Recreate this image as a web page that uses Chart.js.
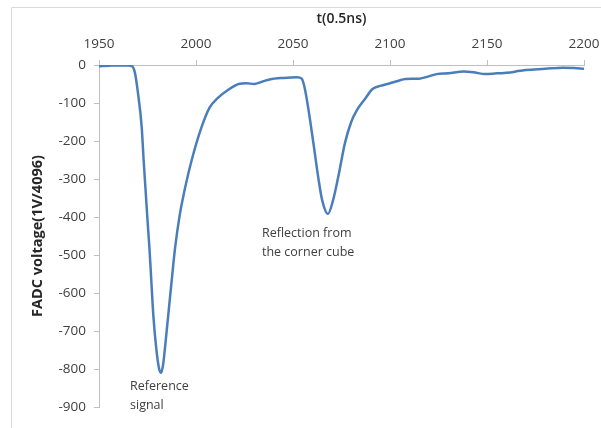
<!DOCTYPE html>
<html>
<head>
<meta charset="utf-8">
<script src="https://cdn.jsdelivr.net/npm/chart.js@4/dist/chart.umd.min.js"></script>
<style>
  html, body { margin: 0; padding: 0; background: #fff; }
  #wrap { width: 601px; height: 428px; }
</style>
</head>
<body>
<div id="wrap"><canvas id="myChart" width="601" height="428"></canvas></div>
<script>
// time in units of 0.5 ns, FADC voltage in 1V/4096
var tValues = [1950, 1955, 1960, 1965, 1967, 1968.5, 1970, 1972, 1973, 1975, 1976, 1977, 1978, 1979.5, 1981, 1982, 1983, 1984, 1985.7, 1987.4, 1989.2, 1991.6, 1993.8, 1997.8, 2002.9, 2007, 2011, 2017, 2022, 2026, 2030, 2034, 2038, 2045, 2052, 2054.5, 2056, 2058, 2060.5, 2063, 2065, 2068, 2070.7, 2073.3, 2076.8, 2080, 2083, 2087, 2091, 2095, 2100, 2104, 2108, 2115, 2120, 2124, 2130, 2138, 2143, 2149, 2155, 2162, 2166, 2170, 2180, 2189, 2195, 2200];
var voltage = [-3, -2, -1, -1, -3, -20, -70, -163, -250, -408, -482, -571, -658, -745, -800, -810, -790, -745, -658, -571, -482, -395, -337, -250, -163, -112, -88, -64, -50, -48, -50, -44, -38, -34, -32, -36, -60, -118, -205, -295, -355, -392, -355, -295, -205, -150, -118, -90, -63, -55, -48, -42, -37, -36, -30, -24, -22, -17, -19, -24, -22, -20, -16, -13, -10, -7, -8, -10];
var xTicks = [1950, 2000, 2050, 2100, 2150, 2200];
var yTicks = [0, -100, -200, -300, -400, -500, -600, -700, -800, -900];

var notes = [
  { t: 1966, v: -847, lines: ["Reference", "signal"] },
  { t: 2034, v: -442, lines: ["Reflection from", "the corner cube"] }
];

var points = tValues.map(function (t, i) { return { x: t, y: voltage[i] }; });

var FONT = "'Open Sans', sans-serif";
var TEXT = "#404040";

var extras = {
  id: "extras",
  beforeDraw: function (chart) {
    var c = chart.ctx;
    c.save();
    c.strokeStyle = "#d9d9d9";
    c.lineWidth = 1;
    c.beginPath();
    c.moveTo(11.5, 428);
    c.lineTo(11.5, 7.5);
    c.lineTo(601, 7.5);
    c.stroke();
    c.restore();
  },
  afterDatasetsDraw: function (chart) {
    var c = chart.ctx;
    var xs = chart.scales.x, ys = chart.scales.y;
    c.save();
    c.fillStyle = TEXT;
    c.font = "12.5px " + FONT;
    c.textAlign = "left";
    c.textBaseline = "middle";
    notes.forEach(function (n) {
      var px = xs.getPixelForValue(n.t);
      var py = ys.getPixelForValue(n.v);
      n.lines.forEach(function (s, k) {
        c.fillText(s, px, py + k * 19);
      });
    });
    c.restore();
  }
};

new Chart("myChart", {
  type: "line",
  data: {
    datasets: [{
      data: points,
      borderColor: "#4a7ebb",
      borderWidth: 2.5,
      pointRadius: 0,
      tension: 0.4,
      cubicInterpolationMode: "monotone",
      fill: false
    }]
  },
  options: {
    responsive: false,
    animation: false,
    layout: { padding: { left: 0, top: 0, right: 17, bottom: 21 } },
    plugins: { legend: { display: false }, tooltip: { enabled: false } },
    scales: {
      x: {
        type: "linear",
        position: "top",
        min: 1950,
        max: 2200,
        afterBuildTicks: function (s) { s.ticks = xTicks.map(function (v) { return { value: v }; }); },
        afterFit: function (s) { s.height = 65; s.paddingLeft = 0; s.paddingRight = 0; },
        ticks: { color: TEXT, font: { family: FONT, size: 13.5 }, padding: 8, maxRotation: 0,
                 callback: function (v) { return String(v); } },
        grid: { drawOnChartArea: false, color: "#bfbfbf", tickLength: 5 },
        border: { color: "#bfbfbf" },
        title: { display: true, text: "t(0.5ns)", color: "#262626", font: { family: FONT, size: 14, weight: "600" }, padding: { top: 11, bottom: 0 } }
      },
      y: {
        min: -900,
        max: 0,
        afterBuildTicks: function (s) { s.ticks = yTicks.map(function (v) { return { value: v }; }); },
        afterFit: function (s) { s.width = 99; },
        ticks: { color: TEXT, font: { family: FONT, size: 13.5 }, padding: 8 },
        grid: { drawOnChartArea: false, color: "#bfbfbf", tickLength: 5 },
        border: { color: "#bfbfbf" },
        title: { display: true, text: "FADC voltage(1V/4096)", color: "#262626", font: { family: FONT, size: 14.5, weight: "bold" }, padding: { top: 29, bottom: 0 } }
      }
    }
  },
  plugins: [extras]
});
</script>
</body>
</html>
